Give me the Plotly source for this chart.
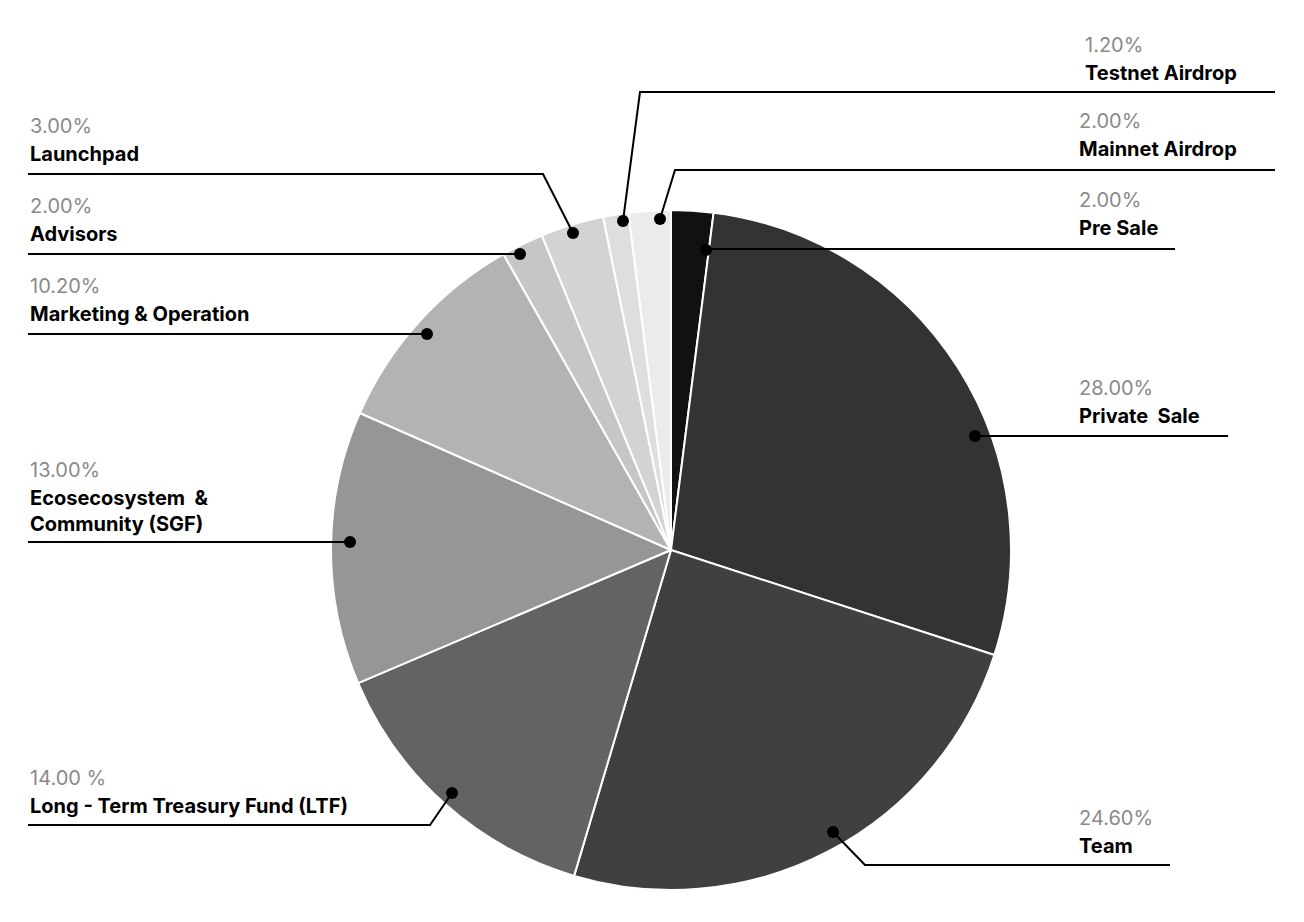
import plotly.graph_objects as go

# slices in clockwise order from 12 o'clock
labels = ["Pre Sale", "Private  Sale", "Team", "Long - Term Treasury Fund (LTF)",
          "Ecosecosystem  &<br>Community (SGF)", "Marketing & Operation", "Advisors",
          "Launchpad", "Testnet Airdrop", "Mainnet Airdrop"]
values = [2.0, 28.0, 24.6, 14.0, 13.0, 10.2, 2.0, 3.0, 1.2, 2.0]
pct_text = ["2.00%", "28.00%", "24.60%", "14.00 %", "13.00%", "10.20%",
            "2.00%", "3.00%", "1.20%", "2.00%"]
colors = ["#111111", "#333333", "#404040", "#636363", "#969696", "#b3b3b3",
          "#c6c6c6", "#d3d3d3", "#dedede", "#ebebeb"]

W, H = 1304, 922
OFF = 8  # page body margin offset
CX, CY, R = 671 - OFF, 550 - OFF, 340

# callout layout (pixel coords): dot, elbow, line end, text x, pct y
callouts = [
    ((706, 250), (710, 249), (1175, 249), 1077, 200),
    ((975, 436), (975, 436), (1228, 436), 1077, 388),
    ((833, 832), (865, 865), (1170, 865), 1077, 818),
    ((452, 793), (430, 825), (28, 825), 28, 778),
    ((350, 542), (350, 542), (28, 542), 28, 470),
    ((427, 334), (427, 334), (28, 334), 28, 286),
    ((520, 254), (520, 254), (28, 254), 28, 206),
    ((573, 233), (543, 174), (28, 174), 28, 126),
    ((623, 221), (640, 92), (1275, 92), 1083, 45),
    ((660, 219), (675, 170), (1275, 170), 1077, 121),
]

fig = go.Figure()
fig.add_trace(go.Pie(
    labels=labels, values=values, sort=False, direction="clockwise",
    marker=dict(colors=colors, line=dict(color="white", width=2)),
    textinfo="none", hoverinfo="label+percent", showlegend=False,
    domain=dict(x=[(CX - R) / W, (CX + R) / W], y=[(H - CY - R) / H, (H - CY + R) / H]),
))

shapes, annotations = [], []
for (dot, elbow, end, tx, py), lab, pct in zip(callouts, labels, pct_text):
    shapes.append(dict(type="path", xref="x", yref="y",
                       path=f"M{dot[0]},{dot[1]} L{elbow[0]},{elbow[1]} L{end[0]},{end[1]}",
                       line=dict(color="black", width=2)))
    shapes.append(dict(type="circle", xref="x", yref="y",
                       x0=dot[0] - 6, x1=dot[0] + 6, y0=dot[1] - 6, y1=dot[1] + 6,
                       fillcolor="black", line=dict(color="black", width=0)))
    annotations.append(dict(x=tx, y=py, xref="x", yref="y", text=pct, showarrow=False,
                            xanchor="left", yanchor="middle",
                            font=dict(family="Inter", size=20, color="#8a8a8a")))
    nlines = lab.count("<br>") + 1
    annotations.append(dict(x=tx, y=py + 28 + (nlines - 1) * 12.5, xref="x", yref="y",
                            text=f"<b>{lab}</b>", showarrow=False, align="left",
                            xanchor="left", yanchor="middle",
                            font=dict(family="Inter", size=20, color="black")))

fig.update_layout(
    width=W, height=H, margin=dict(l=0, r=0, t=0, b=0),
    paper_bgcolor="white", plot_bgcolor="white",
    xaxis=dict(range=[OFF, W + OFF], visible=False, fixedrange=True),
    yaxis=dict(range=[H + OFF, OFF], visible=False, fixedrange=True),
    shapes=shapes, annotations=annotations,
)

fig.write_html("out.html")
